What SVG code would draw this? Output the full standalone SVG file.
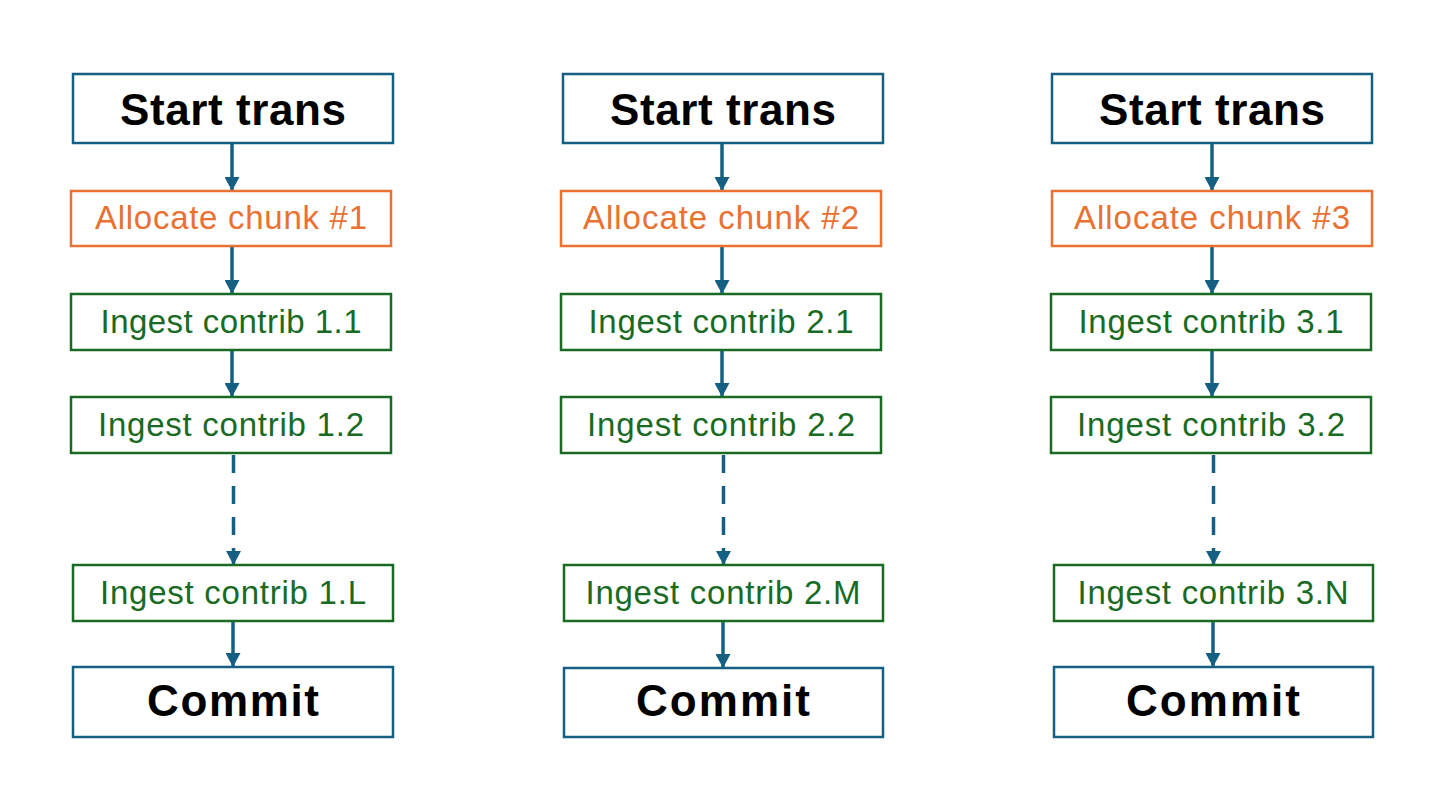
<svg xmlns="http://www.w3.org/2000/svg" width="1440" height="810" viewBox="0 0 1440 810">
<style>
  .box { fill: #ffffff; stroke-width: 2.5; }
  .main { stroke: #156082; }
  .alloc { stroke: #E97132; }
  .ing { stroke: #196B24; }
  .tmain { font-family: "Liberation Sans", Arial, sans-serif; font-weight: bold; font-size: 44px; fill: #000000; text-anchor: middle; }
  .talloc { font-family: "Liberation Sans", Arial, sans-serif; font-size: 33px; fill: #E97132; text-anchor: middle; }
  .ting { font-family: "Liberation Sans", Arial, sans-serif; font-size: 33px; fill: #196B24; text-anchor: middle; }
  .conn { stroke: #156082; stroke-width: 3.5; fill: none; marker-end: url(#arrow); }
  .dash { stroke-dasharray: 18 13; }
</style>
<defs>
  <marker id="arrow" markerUnits="userSpaceOnUse" markerWidth="15" markerHeight="15" refX="14" refY="7.5" orient="auto">
    <path d="M0,0 L14,7.5 L0,15 z" fill="#156082"/>
  </marker>
</defs>
<rect width="1440" height="810" fill="#ffffff"/>

<g id="connectors">
  <line class="conn" x1="232" y1="143" x2="232" y2="191"/>
  <line class="conn" x1="232" y1="246" x2="232" y2="294"/>
  <line class="conn" x1="232" y1="350" x2="232" y2="397"/>
  <line class="conn dash" x1="233.5" y1="455" x2="233.5" y2="565"/>
  <line class="conn" x1="233" y1="621" x2="233" y2="667"/>

  <line class="conn" x1="722" y1="143" x2="722" y2="191"/>
  <line class="conn" x1="722" y1="246" x2="722" y2="294"/>
  <line class="conn" x1="722" y1="350" x2="722" y2="397"/>
  <line class="conn dash" x1="723.5" y1="455" x2="723.5" y2="565"/>
  <line class="conn" x1="723" y1="621" x2="723" y2="668"/>

  <line class="conn" x1="1212" y1="143" x2="1212" y2="191"/>
  <line class="conn" x1="1212" y1="246" x2="1212" y2="294"/>
  <line class="conn" x1="1212" y1="350" x2="1212" y2="397"/>
  <line class="conn dash" x1="1213.5" y1="455" x2="1213.5" y2="565"/>
  <line class="conn" x1="1213" y1="621" x2="1213" y2="667"/>
</g>

<g id="start1"><rect class="box main" x="73" y="74" width="320" height="69"/><text class="tmain" x="233" y="125" textLength="226">Start trans</text></g>
<g id="alloc1"><rect class="box alloc" x="71" y="191" width="320" height="55"/><text class="talloc" x="231" y="229" textLength="272">Allocate chunk #1</text></g>
<g id="ingest1_1"><rect class="box ing" x="71" y="294" width="320" height="56"/><text class="ting" x="231" y="333" textLength="261">Ingest contrib 1.1</text></g>
<g id="ingest1_2"><rect class="box ing" x="71" y="397" width="320" height="56"/><text class="ting" x="231" y="436" textLength="266">Ingest contrib 1.2</text></g>
<g id="ingest1_L"><rect class="box ing" x="73" y="565" width="320" height="56"/><text class="ting" x="233" y="604" textLength="266">Ingest contrib 1.L</text></g>
<g id="commit1"><rect class="box main" x="73" y="667" width="320" height="70"/><text class="tmain" x="233" y="716" textLength="172">Commit</text></g>

<g id="start2"><rect class="box main" x="563" y="74" width="320" height="69"/><text class="tmain" x="723" y="125" textLength="226">Start trans</text></g>
<g id="alloc2"><rect class="box alloc" x="561" y="191" width="320" height="55"/><text class="talloc" x="721" y="229" textLength="276">Allocate chunk #2</text></g>
<g id="ingest2_1"><rect class="box ing" x="561" y="294" width="320" height="56"/><text class="ting" x="721" y="333" textLength="265">Ingest contrib 2.1</text></g>
<g id="ingest2_2"><rect class="box ing" x="561" y="397" width="320" height="56"/><text class="ting" x="721" y="436" textLength="268">Ingest contrib 2.2</text></g>
<g id="ingest2_M"><rect class="box ing" x="564" y="565" width="319" height="56"/><text class="ting" x="723" y="604" textLength="275">Ingest contrib 2.M</text></g>
<g id="commit2"><rect class="box main" x="564" y="668" width="319" height="69"/><text class="tmain" x="723" y="716" textLength="174">Commit</text></g>

<g id="start3"><rect class="box main" x="1052" y="74" width="320" height="69"/><text class="tmain" x="1212" y="125" textLength="226">Start trans</text></g>
<g id="alloc3"><rect class="box alloc" x="1052" y="191" width="320" height="55"/><text class="talloc" x="1212" y="229" textLength="276">Allocate chunk #3</text></g>
<g id="ingest3_1"><rect class="box ing" x="1051" y="294" width="320" height="56"/><text class="ting" x="1211" y="333" textLength="265">Ingest contrib 3.1</text></g>
<g id="ingest3_2"><rect class="box ing" x="1051" y="397" width="320" height="56"/><text class="ting" x="1211" y="436" textLength="268">Ingest contrib 3.2</text></g>
<g id="ingest3_N"><rect class="box ing" x="1054" y="565" width="319" height="56"/><text class="ting" x="1213" y="604" textLength="271">Ingest contrib 3.N</text></g>
<g id="commit3"><rect class="box main" x="1054" y="667" width="319" height="70"/><text class="tmain" x="1213" y="716" textLength="174">Commit</text></g>
</svg>
